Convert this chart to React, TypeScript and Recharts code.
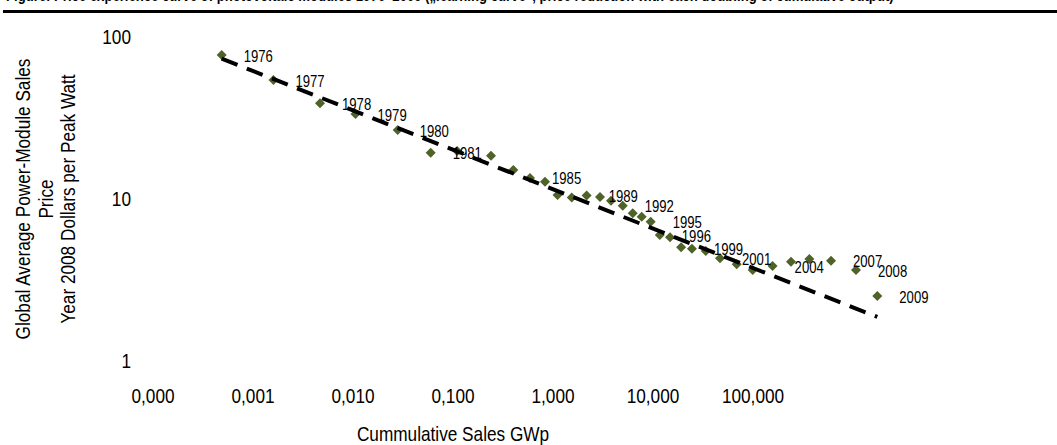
import React from 'react';
import { ScatterChart, Scatter, XAxis, YAxis } from 'recharts';

// no narrow font installed, so Liberation Sans is squeezed sideways
const FONT = "'Liberation Sans', Arial, sans-serif";
const SQUEEZE = 0.82;
const MARKER = '#4F6228';

// in the units of the printed axes
const years = [
    1976, 1977, 1978, 1979, 1980, 1981, 1982, 1983, 1984, 1985, 1986, 1987, 1988, 1989, 1990, 1991, 1992,
    1993, 1994, 1995, 1996, 1997, 1998, 1999, 2000, 2001, 2002, 2003, 2004, 2005, 2006, 2007, 2008, 2009,
];
const cumulativeSales = [
    0.000486, 0.0016, 0.00468, 0.0106, 0.028, 0.0598, 0.11, 0.24, 0.401, 0.589, 0.832, 1.11, 1.54, 2.17, 2.95,
    3.8, 4.98, 6.27, 7.71, 9.48, 11.7, 14.8, 19.1, 24.5, 33.7, 46.8, 68.7, 99.3, 157, 240, 366, 603, 1072, 1750,
];
const modulePrice = [
    77.4, 54.3, 39.0, 33.5, 26.7, 19.3, 19.8, 18.5, 15.1, 13.5, 12.8, 10.6, 10.2, 10.5, 10.3, 9.76, 9.09, 8.16,
    7.77, 7.24, 6.0, 5.8, 5.03, 4.93, 4.78, 4.31, 3.95, 3.65, 3.86, 4.1, 4.26, 4.16, 3.65, 2.52,
];
const labeledYears = [1976, 1977, 1978, 1979, 1980, 1981, 1985, 1989, 1992, 1995, 1996, 1999, 2001, 2004, 2007, 2008, 2009];

// power trend line, end points
const trendX = [0.000486, 1750];
const trendY = [73.5, 1.87];

const xTicks = [0.0001, 0.001, 0.01, 0.1, 1, 10, 100];
const xTickLabels = ['0,000', '0,001', '0,010', '0,100', '1,000', '10,000', '100,000'];
const yTicks = [1, 10, 100];
const yTickLabels = ['1', '10', '100'];

const yTitleLines = ['Global Average Power-Module Sales', 'Price', 'Year 2008 Dollars per Peak Watt'];
const xTitle = 'Cummulative Sales GWp';
const chartTitle =
    'Figure: Price experience curve of photovoltaic modules 1976–2009 („learning curve“, price reduction with each doubling of cumulative output)';

const points = years.map((year, i) => ({
    x: cumulativeSales[i],
    y: modulePrice[i],
    label: labeledYears.includes(year) ? String(year) : '',
}));
const trendPoints = trendX.map((x, i) => ({ x, y: trendY[i] }));

// text squeezed around its anchor point
const Narrow = ({ x, y, size, anchor = 'start', dy = '0.35em', rotate = 0, bold = false, children }: any) => (
    <g transform={`translate(${x},${y}) rotate(${rotate}) scale(${SQUEEZE},1)`}>
        <text x={0} y={0} dy={dy} textAnchor={anchor} fontSize={size} fontFamily={FONT} fontWeight={bold ? 'bold' : 'normal'} fill="#000">
            {children}
        </text>
    </g>
);

const Diamond = (props: any) => {
    const { cx, cy } = props;
    if (cx == null || cy == null) return <g />;
    const r = 5;
    return <polygon points={`${cx},${cy - r} ${cx + r},${cy} ${cx},${cy + r} ${cx - r},${cy}`} fill={MARKER} />;
};

const YearLabel = (props: any) => {
    const { cx, cy, payload } = props;
    if (cx == null || !payload || !payload.label) return <g />;
    return (
        <Narrow x={cx + 22} y={cy + 1} size={16}>
            {payload.label}
        </Narrow>
    );
};

const XTick = (props: any) => {
    const { x, y, payload } = props;
    return (
        <Narrow x={x} y={y} size={21} anchor="middle" dy="0.71em">
            {xTickLabels[xTicks.indexOf(payload.value)] ?? ''}
        </Narrow>
    );
};

const YTick = (props: any) => {
    const { x, y, payload } = props;
    return (
        <Narrow x={x} y={y} size={21} anchor="end">
            {yTickLabels[yTicks.indexOf(payload.value)] ?? ''}
        </Narrow>
    );
};

const YTitle = (props: any) => {
    const vb = props.viewBox || { x: 0, y: 37, width: 153, height: 324 };
    const cy = vb.y + vb.height / 2;
    const xs = [23, 46, 68];
    return (
        <g>
            {yTitleLines.map((line, i) => (
                <Narrow key={line} x={vb.x + xs[i]} y={cy} size={21} anchor="middle" rotate={-90}>
                    {line}
                </Narrow>
            ))}
        </g>
    );
};

const XTitle = (props: any) => {
    const vb = props.viewBox || { x: 153, y: 361, width: 900, height: 60 };
    return (
        <Narrow x={vb.x + 300} y={vb.y + 80} size={21} anchor="middle" dy={0}>
            {xTitle}
        </Narrow>
    );
};

const App = () => {
    return (
        <div style={{ position: 'absolute', left: 0, top: 0, width: 1057, height: 445, background: '#fff', overflow: 'hidden' }}>
            <svg width={1057} height={14} style={{ position: 'absolute', left: 0, top: 0 }}>
                <Narrow x={6} y={1} size={16} bold dy={0}>
                    {chartTitle}
                </Narrow>
                <rect x={3} y={10} width={1054} height={3} fill="#000" />
            </svg>
            <ScatterChart width={1057} height={445} margin={{ top: 37, right: 4, bottom: 24, left: 0 }}>
                <XAxis
                    type="number"
                    dataKey="x"
                    scale="log"
                    domain={[0.0001, 100000]}
                    allowDataOverflow
                    ticks={xTicks}
                    axisLine={false}
                    tickLine={false}
                    tickSize={0}
                    tickMargin={27}
                    height={60}
                    tick={XTick}
                    label={{ content: XTitle }}
                />
                <YAxis
                    type="number"
                    dataKey="y"
                    scale="log"
                    domain={[1, 100]}
                    allowDataOverflow
                    ticks={yTicks}
                    axisLine={false}
                    tickLine={false}
                    tickSize={0}
                    tickMargin={22}
                    width={153}
                    tick={YTick}
                    label={{ content: YTitle }}
                />
                <Scatter data={points} shape={Diamond} isAnimationActive={false} />
                <Scatter
                    data={trendPoints}
                    line={{ stroke: '#000', strokeWidth: 4, strokeDasharray: '17 10' }}
                    shape={() => <g />}
                    isAnimationActive={false}
                />
                <Scatter data={points} shape={YearLabel} isAnimationActive={false} />
            </ScatterChart>
        </div>
    );
};

export default App;
